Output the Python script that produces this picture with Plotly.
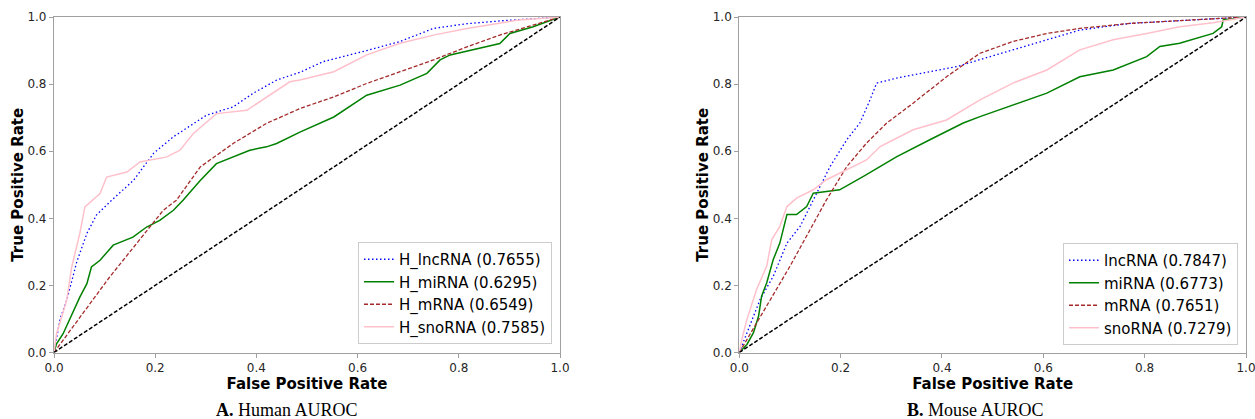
import plotly.graph_objects as go

# ---------------- Human (A) ----------------
h_lnc_x = [0, 0.005, 0.012, 0.025, 0.035, 0.045, 0.065, 0.084, 0.114, 0.157, 0.197, 0.236, 0.301, 0.354, 0.394, 0.44, 0.486, 0.532, 0.618, 0.684, 0.75, 0.816, 0.895, 1.0]
h_lnc_y = [0, 0.04, 0.10, 0.155, 0.215, 0.27, 0.355, 0.41, 0.454, 0.513, 0.594, 0.643, 0.707, 0.732, 0.773, 0.812, 0.835, 0.867, 0.90, 0.927, 0.966, 0.98, 0.99, 1.0]

h_mi_x = [0, 0.005, 0.018, 0.035, 0.051, 0.065, 0.074, 0.091, 0.117, 0.156, 0.183, 0.209, 0.236, 0.255, 0.289, 0.321, 0.387, 0.42, 0.44, 0.486, 0.553, 0.618, 0.684, 0.737, 0.763, 0.783, 0.848, 0.881, 0.901, 0.947, 1.0]
h_mi_y = [0, 0.026, 0.056, 0.115, 0.165, 0.205, 0.255, 0.275, 0.32, 0.344, 0.374, 0.394, 0.424, 0.454, 0.513, 0.563, 0.603, 0.613, 0.623, 0.657, 0.702, 0.767, 0.797, 0.832, 0.872, 0.887, 0.911, 0.921, 0.951, 0.971, 1.0]

h_m_x = [0, 0.11, 0.216, 0.242, 0.289, 0.354, 0.42, 0.486, 0.553, 0.618, 0.684, 0.75, 0.816, 0.881, 0.947, 1.0]
h_m_y = [0, 0.225, 0.424, 0.454, 0.553, 0.623, 0.683, 0.727, 0.762, 0.802, 0.837, 0.872, 0.911, 0.946, 0.976, 1.0]

h_sno_x = [0, 0.005, 0.025, 0.035, 0.051, 0.061, 0.091, 0.104, 0.144, 0.17, 0.223, 0.249, 0.275, 0.321, 0.381, 0.42, 0.466, 0.486, 0.553, 0.618, 0.684, 0.75, 0.816, 0.914, 1.0]
h_sno_y = [0, 0.056, 0.155, 0.255, 0.355, 0.434, 0.474, 0.523, 0.538, 0.568, 0.583, 0.603, 0.652, 0.712, 0.722, 0.762, 0.807, 0.812, 0.837, 0.887, 0.922, 0.946, 0.966, 0.99, 1.0]

# ---------------- Mouse (B) ----------------
m_lnc_x = [0, 0.021, 0.041, 0.067, 0.094, 0.12, 0.146, 0.179, 0.212, 0.238, 0.258, 0.271, 0.311, 0.376, 0.429, 0.475, 0.54, 0.607, 0.672, 0.771, 0.903, 1.0]
m_lnc_y = [0, 0.078, 0.158, 0.227, 0.326, 0.376, 0.455, 0.554, 0.634, 0.684, 0.753, 0.803, 0.818, 0.837, 0.852, 0.873, 0.902, 0.932, 0.961, 0.981, 0.993, 1.0]

m_mi_x = [0, 0.015, 0.028, 0.038, 0.044, 0.054, 0.067, 0.08, 0.094, 0.113, 0.133, 0.14, 0.146, 0.172, 0.198, 0.245, 0.278, 0.311, 0.376, 0.442, 0.475, 0.541, 0.607, 0.672, 0.738, 0.804, 0.83, 0.869, 0.903, 0.935, 0.952, 0.955, 1.0]
m_mi_y = [0, 0.024, 0.059, 0.108, 0.168, 0.207, 0.277, 0.326, 0.411, 0.411, 0.435, 0.455, 0.475, 0.48, 0.485, 0.525, 0.554, 0.584, 0.634, 0.684, 0.703, 0.738, 0.773, 0.822, 0.842, 0.882, 0.912, 0.922, 0.936, 0.951, 0.971, 0.991, 1.0]

m_m_x = [0, 0.1, 0.172, 0.212, 0.251, 0.291, 0.343, 0.409, 0.475, 0.54, 0.607, 0.672, 0.771, 0.869, 1.0]
m_m_y = [0, 0.257, 0.455, 0.554, 0.624, 0.684, 0.743, 0.822, 0.892, 0.927, 0.951, 0.966, 0.981, 0.989, 1.0]

m_sno_x = [0, 0.005, 0.015, 0.034, 0.054, 0.064, 0.08, 0.094, 0.113, 0.146, 0.172, 0.212, 0.251, 0.278, 0.343, 0.409, 0.475, 0.54, 0.607, 0.672, 0.738, 0.804, 0.869, 0.935, 1.0]
m_sno_y = [0, 0.039, 0.098, 0.188, 0.257, 0.336, 0.376, 0.435, 0.46, 0.485, 0.515, 0.545, 0.574, 0.614, 0.664, 0.693, 0.753, 0.803, 0.842, 0.902, 0.932, 0.951, 0.971, 0.983, 1.0]

diag = [0, 1]

h_names = ["H_lncRNA (0.7655)", "H_miRNA (0.6295)", "H_mRNA (0.6549)", "H_snoRNA (0.7585)"]
m_names = ["lncRNA (0.7847)", "miRNA (0.6773)", "mRNA (0.7651)", "snoRNA (0.7279)"]
colors = ["#0000ff", "#008000", "#a52a2a", "#ffc0cb"]
dashes = ["1.5px,2.5px", "solid", "4px,2px", "solid"]
widths = [1.3, 1.5, 1.3, 1.5]

fig = go.Figure()

h_series = [(h_lnc_x, h_lnc_y), (h_mi_x, h_mi_y), (h_m_x, h_m_y), (h_sno_x, h_sno_y)]
m_series = [(m_lnc_x, m_lnc_y), (m_mi_x, m_mi_y), (m_m_x, m_m_y), (m_sno_x, m_sno_y)]

for (xs, ys), name, c, d, w in zip(h_series, h_names, colors, dashes, widths):
    fig.add_trace(go.Scatter(x=xs, y=ys, mode="lines", name=name,
                             line=dict(color=c, dash=d, width=w),
                             xaxis="x", yaxis="y", legend="legend"))
fig.add_trace(go.Scatter(x=diag, y=diag, mode="lines", showlegend=False,
                         line=dict(color="black", dash="4px,2px", width=1.5),
                         xaxis="x", yaxis="y"))

for (xs, ys), name, c, d, w in zip(m_series, m_names, colors, dashes, widths):
    fig.add_trace(go.Scatter(x=xs, y=ys, mode="lines", name=name,
                             line=dict(color=c, dash=d, width=w),
                             xaxis="x2", yaxis="y2", legend="legend2"))
fig.add_trace(go.Scatter(x=diag, y=diag, mode="lines", showlegend=False,
                         line=dict(color="black", dash="4px,2px", width=1.5),
                         xaxis="x2", yaxis="y2"))

W, H = 1255, 419
tickvals = [0, 0.2, 0.4, 0.6, 0.8, 1.0]
ticktext = ["0.0", "0.2", "0.4", "0.6", "0.8", "1.0"]

def ax(domain, anchor, title, standoff):
    return dict(domain=domain, anchor=anchor, range=[0, 1], tickvals=tickvals, ticktext=ticktext,
                showgrid=False, zeroline=False, showline=True, mirror=True, automargin=False,
                ticklabeloverflow="allow",
                linecolor="#a0a0a0", linewidth=1.2, ticks="outside", ticklen=4,
                tickcolor="#a0a0a0", tickfont=dict(family="DejaVu Sans", size=12, color="#262626"),
                title=dict(text=title, font=dict(family="DejaVu Sans", size=15, color="black"),
                           standoff=standoff))

ydom = [1 - 352.5 / H, 1 - 17 / H]
legend_common = dict(font=dict(family="DejaVu Sans", size=15, color="black"),
                     bgcolor="rgba(255,255,255,0.8)", bordercolor="#cccccc", borderwidth=1,
                     xanchor="right", yanchor="bottom", tracegroupgap=0, itemwidth=30)

fig.update_layout(
    width=W, height=H, margin=dict(l=0, r=0, t=0, b=0, autoexpand=False),
    plot_bgcolor="white", paper_bgcolor="white",
    xaxis=ax([54 / W, 560 / W], "y", "<b>False Positive Rate</b>", 2),
    yaxis=ax(ydom, "x", "<b>True Positive Rate</b>", 0),
    xaxis2=ax([739.3 / W, 1246 / W], "y2", "<b>False Positive Rate</b>", 2),
    yaxis2=ax(ydom, "x2", "<b>True Positive Rate</b>", 0),
    legend=dict(x=552 / W, y=1 - 344 / H, **legend_common),
    legend2=dict(x=1238 / W, y=1 - 345 / H, **legend_common),
    annotations=[
        dict(text="<b>A.</b> Human AUROC", x=287 / W, y=0, xref="paper", yref="paper",
             showarrow=False, xanchor="center", yanchor="bottom", borderpad=0, yshift=-2,
             font=dict(family="Liberation Serif", size=18, color="black")),
        dict(text="<b>B.</b> Mouse AUROC", x=975.5 / W, y=0, xref="paper", yref="paper",
             showarrow=False, xanchor="center", yanchor="bottom", borderpad=0, yshift=-2,
             font=dict(family="Liberation Serif", size=18, color="black")),
    ],
)

fig.write_html("out.html", config={"displayModeBar": False},
               post_script="document.body.style.margin='0';document.body.style.overflow='hidden';")
